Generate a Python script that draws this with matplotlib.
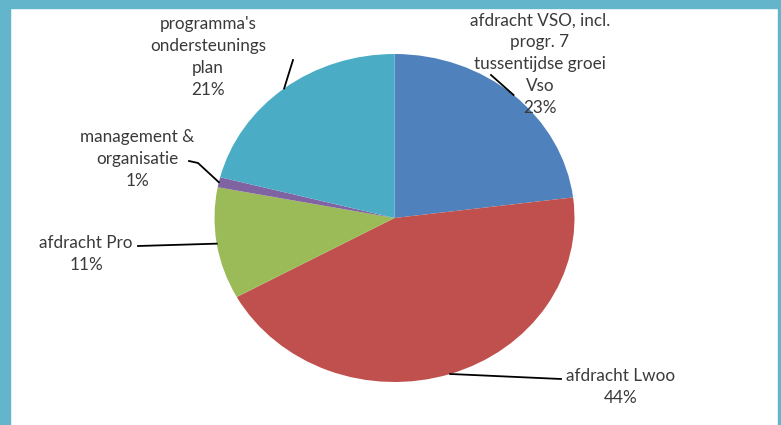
import matplotlib.pyplot as plt
from matplotlib.lines import Line2D
from matplotlib.patches import Rectangle
import numpy as np

W, H = 781, 425

labels = [
    "afdracht VSO, incl.\nprogr. 7\ntussentijdse groei\nVso",
    "afdracht Lwoo",
    "afdracht Pro",
    "management &\norganisatie",
    "programma's\nondersteunings\nplan",
]
shares = [23, 44, 11, 1, 21]
colors = ["#4f81bd", "#c0504d", "#9bbb59", "#8064a2", "#4bacc6"]

# label block centres and leader-line ends, in pixels from top-left
label_pos = [(540, 64), (621, 387), (86, 254), (137, 159), (208, 57)]
line_ends = [(491, 75), (561, 379), (138, 246), (189, 161), (293, 60)]


def px(x, y):
    return x / W, 1 - y / H


plt.rcParams["font.family"] = ["Lato", "DejaVu Sans"]
fig = plt.figure(figsize=(W / 100, H / 100), dpi=100)
fig.patch.set_facecolor("white")

# pie is a bit wider than tall in the original
cx, cy, rx, ry = 394.5, 218, 180, 164
ax = fig.add_axes([(cx - rx) / W, 1 - (cy + ry) / H, 2 * rx / W, 2 * ry / H])
wedges, _ = ax.pie(shares, colors=colors, startangle=90, counterclock=False,
                   wedgeprops=dict(linewidth=0))
ax.set_aspect("auto")
ax.set_xlim(-1, 1)
ax.set_ylim(-1, 1)
ax.axis("off")

to_fig = ax.transData + fig.transFigure.inverted()
for w, lab, val, (tx, ty), (lx, ly) in zip(wedges, labels, shares, label_pos, line_ends):
    mid = np.deg2rad((w.theta1 + w.theta2) / 2)
    ex, ey = to_fig.transform((np.cos(mid), np.sin(mid)))
    sx, sy = px(lx, ly)
    if lab.startswith("management"):
        bx, by = px(lx + 9, ly + 2)
        xs, ys = [sx, bx, ex], [sy, by, ey]
    else:
        xs, ys = [sx, ex], [sy, ey]
    fig.add_artist(Line2D(xs, ys, transform=fig.transFigure, color="black", linewidth=1.3))
    fx, fy = px(tx, ty)
    fig.text(fx, fy, f"{lab}\n{val}%", ha="center", va="center", fontsize=12.3,
             color="#3a3a3a", linespacing=1.45)

# teal frame
frame = "#62b5ca"
fig.add_artist(Rectangle((0, 0), 10 / W, 1, transform=fig.transFigure, color=frame))
fig.add_artist(Rectangle((0, 1 - 8 / H), 1, 8 / H, transform=fig.transFigure, color=frame))
fig.add_artist(Rectangle((1 - 3 / W, 0), 3 / W, 1, transform=fig.transFigure, color=frame))

fig.savefig("out.png", dpi=100)
